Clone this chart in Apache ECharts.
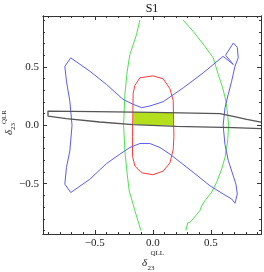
<!DOCTYPE html>
<html>
<head>
<meta charset="utf-8">
<script src="https://cdn.jsdelivr.net/npm/echarts@6/dist/echarts.min.js"></script>
<style>html,body{margin:0;padding:0;background:#fff}#c{width:264px;height:272px}</style>
</head>
<body>
<div id="c"></div>
<script>
// ---- data (x = delta23 QLL, y = delta23 QLR) ----
const titleText = 'S1';
const xMajor = [-0.5, 0, 0.5];
const yMajor = [-0.5, 0, 0.5];
const minorTicks = [-0.9, -0.8, -0.7, -0.6, -0.4, -0.3, -0.2, -0.1, 0.1, 0.2, 0.3, 0.4, 0.6, 0.7, 0.8, 0.9];

const blueCurve = [
  [-0.758, 0.505], [-0.707, 0.577], [-0.543, 0.463], [-0.399, 0.349], [-0.257, 0.222],
  [-0.169, 0.179], [-0.097, 0.151], [-0.026, 0.165], [0.089, 0.202], [0.262, 0.321],
  [0.434, 0.449], [0.605, 0.590], [0.693, 0.520], [0.626, 0.600], [0.693, 0.704],
  [0.727, 0.667], [0.735, 0.577], [0.707, 0.505], [0.678, 0.377], [0.649, 0.264],
  [0.621, 0.150], [0.605, 0.000], [0.621, -0.165], [0.649, -0.300], [0.687, -0.417],
  [0.715, -0.503], [0.727, -0.588], [0.707, -0.667], [0.678, -0.630], [0.606, -0.588],
  [0.491, -0.517], [0.348, -0.403], [0.147, -0.247], [0.061, -0.190], [-0.026, -0.156],
  [-0.112, -0.156], [-0.198, -0.190], [-0.284, -0.247], [-0.399, -0.327], [-0.543, -0.462],
  [-0.707, -0.575], [-0.758, -0.504], [-0.744, -0.360], [-0.715, -0.220], [-0.696, 0.000],
  [-0.715, 0.207], [-0.744, 0.377], [-0.758, 0.505]
];

const greenLeft = [
  [-0.112, 0.900], [-0.141, 0.775], [-0.198, 0.605], [-0.221, 0.463], [-0.241, 0.264],
  [-0.252, 0.000], [-0.241, -0.220], [-0.221, -0.417], [-0.204, -0.560], [-0.155, -0.730],
  [-0.103, -0.900]
];

const greenRight = [
  [0.261, 0.900], [0.347, 0.803], [0.448, 0.675], [0.520, 0.577], [0.563, 0.434],
  [0.601, 0.321], [0.629, 0.207], [0.644, 0.094], [0.652, 0.000], [0.644, -0.134],
  [0.621, -0.276], [0.592, -0.375], [0.549, -0.488], [0.506, -0.573], [0.448, -0.645],
  [0.420, -0.690], [0.405, -0.730], [0.390, -0.735], [0.375, -0.765], [0.360, -0.770],
  [0.347, -0.800], [0.330, -0.800], [0.320, -0.830], [0.300, -0.835], [0.284, -0.900]
];

const redCurve = [
  [0.000, 0.423], [-0.112, 0.406], [-0.155, 0.341], [-0.170, 0.270], [-0.172, 0.128],
  [-0.175, -0.094], [-0.175, -0.264], [-0.155, -0.349], [-0.097, -0.406], [0.000, -0.423],
  [0.089, -0.392], [0.147, -0.321], [0.175, -0.207], [0.181, -0.094], [0.178, 0.050],
  [0.175, 0.213], [0.147, 0.312], [0.089, 0.398], [0.000, 0.423]
];

const blackBand = [
  [0.931, 0.028], [0.808, 0.050], [0.692, 0.077], [0.578, 0.100], [0.000, 0.111],
  [-0.500, 0.117], [-0.903, 0.122], [-0.903, 0.079], [-0.744, 0.057], [-0.457, 0.028],
  [-0.170, 0.006], [0.204, -0.009], [0.692, -0.020], [0.931, -0.028]
];

const fillRegion = [[-0.170, 0.112], [0.178, 0.108], [0.178, -0.004], [-0.170, 0.006]];

// ---- layout / style ----
const XMIN = -0.946, XMAX = 0.931, YMIN = -0.93, YMAX = 0.935;
const FONT = 'Liberation Serif';
const fmt = v => (v < 0 ? '\u2212' : '') + Math.abs(v).toFixed(1);
const frameColor = '#333';

function axis(kind, gridIndex, position, ticks, len, labels) {
  return {
    type: 'value', gridIndex, position,
    min: kind === 'x' ? XMIN : YMIN, max: kind === 'x' ? XMAX : YMAX,
    axisLine: { show: true, onZero: false, lineStyle: { color: frameColor, width: 1 } },
    axisTick: { show: true, inside: true, length: len, customValues: ticks, lineStyle: { color: frameColor, width: 1 } },
    axisLabel: labels ? { show: true, customValues: ticks, formatter: fmt, fontFamily: FONT, fontSize: 11, color: '#222', margin: 4 } : { show: false },
    splitLine: { show: false }, minorTick: { show: false }
  };
}

const gridBox = { left: 43, top: 16, width: 218, height: 218 };

const lineSeries = (data, color, w) => ({
  type: 'line', xAxisIndex: 0, yAxisIndex: 0, data, showSymbol: false, symbol: 'none',
  lineStyle: { color, width: w }, silent: true, z: 3
});

const txt = (text, x, y, size, rot, italic) => ({
  type: 'text', x, y, rotation: rot,
  style: { text, font: (italic ? 'italic ' : '') + size + 'px ' + FONT, fill: '#222', align: 'left', verticalAlign: 'bottom' }
});

const chart = echarts.init(document.getElementById('c'), null, { renderer: 'canvas' });
chart.setOption({
  animation: false,
  backgroundColor: '#fff',
  grid: [Object.assign({}, gridBox), Object.assign({}, gridBox)],
  xAxis: [
    axis('x', 0, 'bottom', xMajor, 4, true),
    axis('x', 0, 'top', xMajor, 4, false),
    axis('x', 1, 'bottom', minorTicks, 2, false),
    axis('x', 1, 'top', minorTicks, 2, false)
  ],
  yAxis: [
    axis('y', 0, 'left', yMajor, 4, true),
    axis('y', 0, 'right', yMajor, 4, false),
    axis('y', 1, 'left', minorTicks, 2, false),
    axis('y', 1, 'right', minorTicks, 2, false)
  ],
  series: [
    {
      type: 'custom', xAxisIndex: 0, yAxisIndex: 0, data: [0], silent: true, z: 2,
      renderItem: (params, api) => ({
        type: 'polygon',
        shape: { points: fillRegion.map(p => api.coord(p)) },
        style: { fill: '#b3df1c', stroke: null }
      })
    },
    lineSeries(greenLeft, '#4ee24e', 1),
    lineSeries(greenRight, '#4ee24e', 1),
    lineSeries(redCurve, '#ff3a3a', 1),
    lineSeries(blueCurve, '#5c5cf2', 1),
    lineSeries(blackBand, '#555555', 1.3)
  ],
  graphic: [
    { type: 'text', x: 152, y: 3, style: { text: titleText, font: '12px ' + FONT, fill: '#111', align: 'center', verticalAlign: 'top' } },
    txt('δ', 142, 269, 11, 0, true),
    txt('QLL', 150.5, 257, 7, 0, false),
    txt('23', 147.5, 272, 7, 0, false),
    txt('δ', 14.5, 135, 11, Math.PI / 2, true),
    txt('QLR', 7.5, 124, 7, Math.PI / 2, false),
    txt('23', 16.5, 130, 7, Math.PI / 2, false)
  ]
});
</script>
</body>
</html>
